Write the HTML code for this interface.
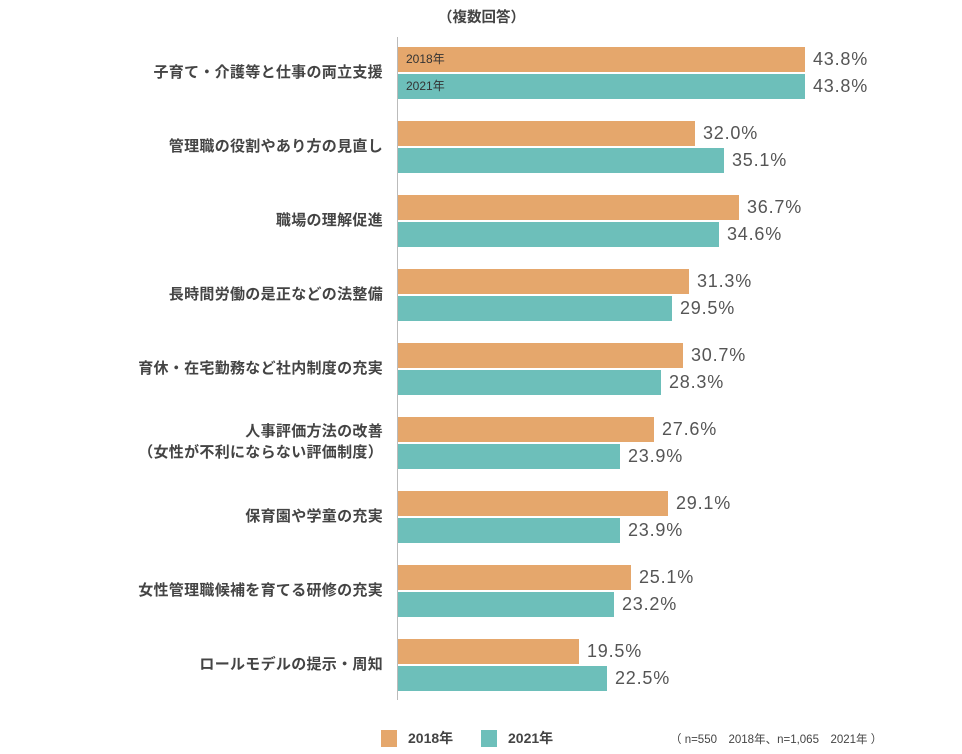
<!DOCTYPE html>
<html><head><meta charset="utf-8"><style>
body{margin:0;width:962px;height:754px;background:#fff;position:relative;overflow:hidden;font-family:"Liberation Sans","Noto Sans CJK JP",sans-serif;color:#444}
.a{position:absolute}
.lab{position:absolute;right:579px;text-align:right;font-size:15px;font-weight:bold;color:#444;line-height:21px;white-space:nowrap;letter-spacing:0.3px}
.bar{position:absolute;left:398px;height:25px}
.o{background:#e5a76c}.t{background:#6dbfba}
.v{position:absolute;font-size:18px;color:#555;line-height:25px;letter-spacing:0.8px}
.in{position:absolute;left:406px;font-size:12px;color:#333;line-height:25px}
</style></head><body>
<div class="a" style="left:438px;top:6px;font-size:14.5px;font-weight:bold;color:#444">（複数回答）</div>
<div class="a" style="left:397px;top:37px;width:1px;height:663px;background:#bbb"></div>
<div id="c"></div>
<div class="a" style="left:381px;top:730px;width:16px;height:17px;background:#e5a76c"></div>
<div class="a" style="left:408px;top:730px;font-size:14px;font-weight:bold;line-height:17px">2018年</div>
<div class="a" style="left:481px;top:730px;width:16px;height:17px;background:#6dbfba"></div>
<div class="a" style="left:508px;top:730px;font-size:14px;font-weight:bold;line-height:17px">2021年</div>
<div class="a" style="left:670px;top:733px;font-size:11.5px;line-height:15px;white-space:pre">（ n=550　2018年、n=1,065　2021年 ）</div>
<script>
var d=[["子育て・介護等と仕事の両立支援",43.8,43.8],["管理職の役割やあり方の見直し",32.0,35.1],["職場の理解促進",36.7,34.6],["長時間労働の是正などの法整備",31.3,29.5],["育休・在宅勤務など社内制度の充実",30.7,28.3],["人事評価方法の改善<br>（女性が不利にならない評価制度）",27.6,23.9],["保育園や学童の充実",29.1,23.9],["女性管理職候補を育てる研修の充実",25.1,23.2],["ロールモデルの提示・周知",19.5,22.5]];
var h="";
d.forEach(function(r,i){var y=47+74*i;var w1=Math.round(r[1]*9.29),w2=Math.round(r[2]*9.29);
var two=r[0].indexOf("<br>")>=0;
h+='<div class="lab" style="top:'+(two?y+4:y+15)+'px">'+r[0]+'</div>';
h+='<div class="bar o" style="top:'+y+'px;width:'+w1+'px"></div>';
h+='<div class="bar t" style="top:'+(y+27)+'px;width:'+w2+'px"></div>';
h+='<div class="v" style="left:'+(398+w1+8)+'px;top:'+y+'px">'+r[1].toFixed(1)+'%</div>';
h+='<div class="v" style="left:'+(398+w2+8)+'px;top:'+(y+27)+'px">'+r[2].toFixed(1)+'%</div>';
if(i==0){h+='<div class="in" style="top:'+y+'px">2018年</div><div class="in" style="top:'+(y+27)+'px">2021年</div>';}
});
document.getElementById("c").innerHTML=h;
</script>
</body></html>
